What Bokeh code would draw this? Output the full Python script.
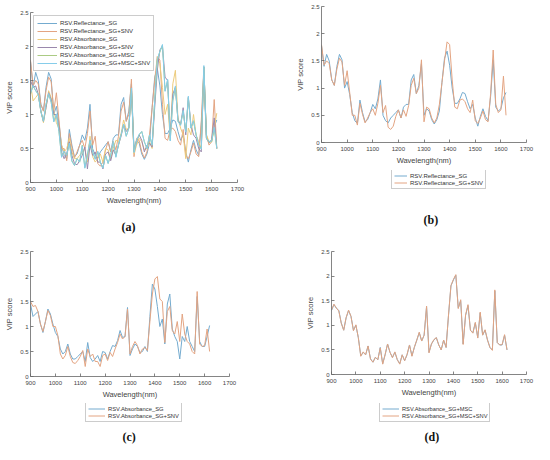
from bokeh.plotting import figure
from bokeh.models import Legend, LegendItem, Title, FixedTicker, Range1d
from bokeh.layouts import row, column
from bokeh.embed import file_html
from bokeh.resources import INLINE

wavelength = [900, 910, 920, 930, 940, 950, 960, 970, 980, 990,
              1000, 1010, 1020, 1030, 1040, 1050, 1060, 1070, 1080, 1090,
              1100, 1110, 1120, 1130, 1140, 1150, 1160, 1170, 1180, 1190,
              1200, 1210, 1220, 1230, 1240, 1250, 1260, 1270, 1280, 1290,
              1300, 1310, 1320, 1330, 1340, 1350, 1360, 1370, 1380, 1390,
              1400, 1410, 1420, 1430, 1440, 1450, 1460, 1470, 1480, 1490,
              1500, 1510, 1520, 1530, 1540, 1550, 1560, 1570, 1580, 1590,
              1600, 1610, 1620]

refl_sg = [1.78, 1.40, 1.62, 1.50, 1.15, 1.05, 1.40, 1.62, 1.52, 1.00,
           1.12, 0.88, 0.55, 0.40, 0.35, 0.78, 0.55, 0.38, 0.42, 0.55,
           0.70, 0.62, 0.80, 1.15, 0.50, 0.40, 0.36, 0.45, 0.50, 0.55,
           0.60, 0.45, 0.65, 0.70, 0.70, 1.15, 1.25, 0.90, 1.05, 1.45,
           0.50, 0.62, 0.58, 0.42, 0.34, 0.42, 0.58, 1.10, 1.55, 1.68,
           1.42, 1.00, 0.72, 0.72, 0.80, 0.92, 0.90, 0.75, 0.62, 0.70,
           0.45, 0.30, 0.48, 0.62, 0.48, 0.40, 0.85, 1.52, 0.65, 0.58,
           0.62, 0.82, 0.92]

refl_sg_snv = [1.80, 1.42, 1.50, 1.45, 1.15, 1.05, 1.35, 1.55, 1.48, 1.05,
               1.32, 0.92, 0.50, 0.50, 0.32, 0.72, 0.52, 0.36, 0.45, 0.55,
               0.62, 0.50, 0.72, 1.05, 0.55, 0.68, 0.28, 0.24, 0.30, 0.48,
               0.60, 0.45, 0.60, 0.48, 0.68, 1.05, 1.18, 0.90, 1.00, 1.52,
               0.38, 0.65, 0.62, 0.45, 0.36, 0.45, 0.70, 1.10, 1.50, 1.85,
               1.80, 1.15, 0.65, 0.62, 0.78, 0.80, 0.75, 0.62, 0.55, 0.78,
               0.40, 0.35, 0.45, 0.58, 0.42, 0.38, 0.90, 1.70, 0.70, 0.55,
               0.60, 1.22, 0.50]

abs_sg = [1.45, 1.20, 1.25, 1.30, 1.05, 0.88, 1.10, 1.35, 1.25, 1.05,
          0.88, 0.80, 0.55, 0.45, 0.50, 0.65, 0.45, 0.35, 0.35, 0.40,
          0.45, 0.50, 0.30, 0.68, 0.38, 0.30, 0.35, 0.42, 0.30, 0.50,
          0.48, 0.35, 0.50, 0.62, 0.60, 0.72, 0.92, 0.78, 0.80, 1.38,
          0.42, 0.55, 0.65, 0.60, 0.48, 0.50, 0.60, 0.50, 1.20, 1.85,
          1.75, 1.40, 1.00, 1.15, 0.65, 1.45, 1.65, 0.95, 0.80, 0.70,
          0.35, 0.80, 0.70, 1.00, 0.70, 0.60, 0.50, 1.60, 0.70, 0.60,
          0.60, 0.80, 1.02]

abs_sg_snv = [1.50, 1.40, 1.42, 1.30, 1.05, 0.90, 1.10, 1.32, 1.22, 1.00,
              1.00, 0.82, 0.45, 0.35, 0.42, 0.60, 0.40, 0.28, 0.26, 0.32,
              0.40, 0.52, 0.20, 0.55, 0.40, 0.45, 0.30, 0.30, 0.20, 0.42,
              0.45, 0.32, 0.48, 0.40, 0.55, 0.68, 0.85, 0.75, 0.80, 1.35,
              0.45, 0.60, 0.70, 0.62, 0.45, 0.55, 0.58, 0.52, 1.10, 1.65,
              1.95, 2.00, 1.55, 1.50, 0.68, 1.30, 1.40, 0.92, 0.85, 1.10,
              0.70, 1.25, 0.85, 0.70, 0.65, 0.50, 0.45, 1.70, 0.65, 0.60,
              0.62, 0.95, 0.50]

abs_sg_msc = [1.30, 1.42, 1.35, 1.30, 1.05, 0.90, 1.15, 1.30, 1.18, 0.90,
              1.00, 0.75, 0.38, 0.45, 0.40, 0.58, 0.32, 0.25, 0.35, 0.30,
              0.55, 0.22, 0.40, 0.62, 0.45, 0.35, 0.45, 0.30, 0.22, 0.40,
              0.28, 0.40, 0.60, 0.38, 0.55, 0.70, 0.85, 0.68, 0.80, 1.38,
              0.45, 0.62, 0.70, 0.75, 0.60, 0.50, 0.70, 0.55, 1.20, 1.80,
              1.92, 2.02, 1.35, 1.50, 0.62, 1.20, 1.40, 0.90, 0.85, 1.05,
              0.75, 1.25, 0.80, 0.90, 0.70, 0.55, 0.50, 1.70, 0.65, 0.60,
              0.60, 0.80, 0.50]

abs_sg_msc_snv = [1.31, 1.43, 1.35, 1.29, 1.04, 0.90, 1.16, 1.31, 1.18, 0.89,
                  1.01, 0.75, 0.37, 0.46, 0.40, 0.58, 0.31, 0.25, 0.35, 0.30,
                  0.54, 0.21, 0.41, 0.62, 0.45, 0.34, 0.46, 0.30, 0.21, 0.40,
                  0.28, 0.41, 0.60, 0.37, 0.56, 0.70, 0.86, 0.68, 0.80, 1.39,
                  0.44, 0.62, 0.71, 0.75, 0.60, 0.50, 0.70, 0.55, 1.21, 1.81,
                  1.93, 2.03, 1.34, 1.52, 0.61, 1.21, 1.42, 0.90, 0.84, 1.06,
                  0.74, 1.27, 0.80, 0.91, 0.70, 0.55, 0.49, 1.72, 0.65, 0.60,
                  0.61, 0.81, 0.50]

series_names = ["RSV.Reflectance_SG", "RSV.Reflectance_SG+SNV", "RSV.Absorbance_SG",
                "RSV.Absorbance_SG+SNV", "RSV.Absorbance_SG+MSC", "RSV.Absorbance_SG+MSC+SNV"]
series_values = [refl_sg, refl_sg_snv, abs_sg, abs_sg_snv, abs_sg_msc, abs_sg_msc_snv]
colors_a = ["#74abcf", "#e3a482", "#eccb7c", "#9a88ac", "#abcb84", "#86cdea"]
blue, orange = "#74abcf", "#e3a482"

x_ticks = [900, 1000, 1100, 1200, 1300, 1400, 1500, 1600, 1700]
y_ticks = [0, 0.5, 1, 1.5, 2, 2.5]
y_tick_labels = ["0", "0.5", "1", "1.5", "2", "2.5"]

FONT = "Liberation Sans"


def make_fig(fw, fh, bl, br, bt, bb):
    p = figure(frame_width=fw, frame_height=fh,
               min_border_left=bl, min_border_right=br,
               min_border_top=bt, min_border_bottom=bb,
               x_range=Range1d(900, 1700), y_range=Range1d(0, 2.5),
               output_backend="svg", toolbar_location=None,
               title_location=None)
    p.outline_line_color = None
    p.xgrid.visible = False
    p.ygrid.visible = False
    p.border_fill_color = "white"
    p.xaxis.ticker = FixedTicker(ticks=x_ticks)
    p.yaxis.ticker = FixedTicker(ticks=y_ticks)
    p.yaxis.major_label_overrides = {float(t): l for t, l in zip(y_ticks, y_tick_labels)}
    p.xaxis.axis_label = "Wavelength(nm)"
    p.yaxis.axis_label = "VIP score"
    for ax in (p.xaxis[0], p.yaxis[0]):
        ax.major_tick_in = 3
        ax.major_tick_out = 0
        ax.minor_tick_in = 0
        ax.minor_tick_out = 0
        ax.axis_line_color = "#666666"
        ax.axis_line_width = 0.8
        ax.major_tick_line_color = "#666666"
        ax.major_tick_line_width = 0.8
        ax.major_label_text_font = FONT
        ax.major_label_text_font_size = "6px"
        ax.major_label_text_color = "#444444"
        ax.axis_label_text_font = FONT
        ax.axis_label_text_font_size = "7.5px"
        ax.axis_label_text_font_style = "normal"
        ax.axis_label_text_color = "#444444"
    p.xaxis.major_label_standoff = 4
    p.xaxis.axis_label_standoff = 2
    p.yaxis.major_label_standoff = 2
    p.yaxis.axis_label_standoff = 3
    return p


def style_legend(lg, size, glyph_w, row_h, pad):
    lg.label_text_font = FONT
    lg.label_text_font_size = size
    lg.label_text_color = "#333333"
    lg.glyph_width = glyph_w
    lg.glyph_height = row_h
    lg.label_height = row_h
    lg.label_standoff = 3
    lg.spacing = 0
    lg.padding = pad
    lg.border_line_color = "#999999"
    lg.border_line_width = 0.8
    lg.background_fill_color = "white"
    lg.background_fill_alpha = 1.0
    lg.inactive_fill_alpha = 0.0


def add_caption(p, text, standoff, offset):
    p.add_layout(Title(text=text, align="left", text_font="Liberation Serif",
                       text_font_style="bold", text_font_size="12px",
                       text_color="#111111", standoff=standoff, offset=offset), "below")


# ---- (a): all six series, legend inside
fa = make_fig(207, 170, 30, 54, 12, 64)
items_a = []
for name, vals, col in zip(series_names, series_values, colors_a):
    r = fa.line(wavelength, vals, line_color=col, line_width=1)
    items_a.append(LegendItem(label=name, renderers=[r]))
lega = Legend(items=items_a, location="top_left")
style_legend(lega, "6px", 20, 8, 3)
lega.margin = 3
fa.add_layout(lega, "center")
add_caption(fa, "(a)", 20, 91)


def pair_plot(fw, fh, bl, br, bt, bb, vals1, vals2):
    p = make_fig(fw, fh, bl, br, bt, bb)
    p.line(wavelength, vals1, line_color=blue, line_width=1)
    p.line(wavelength, vals2, line_color=orange, line_width=1)
    return p


def legend_fig(fw, fh, bl, br, bt, bb, vals1, vals2, n1, n2, size, glyph_w, loc,
               caption, standoff, offset):
    q = figure(frame_width=fw, frame_height=fh,
               min_border_left=bl, min_border_right=br,
               min_border_top=bt, min_border_bottom=bb,
               x_range=Range1d(900, 1700), y_range=Range1d(0, 2.5),
               x_axis_location=None, y_axis_location=None,
               output_backend="svg", toolbar_location=None, title_location=None)
    q.outline_line_color = None
    q.xgrid.visible = False
    q.ygrid.visible = False
    r1 = q.line(wavelength, vals1, line_color=blue, line_width=1, visible=False)
    r2 = q.line(wavelength, vals2, line_color=orange, line_width=1, visible=False)
    lg = Legend(items=[LegendItem(label=n1, renderers=[r1]),
                       LegendItem(label=n2, renderers=[r2])], location=loc)
    style_legend(lg, size, glyph_w, 7, 2)
    lg.margin = 0
    q.add_layout(lg, "center")
    add_caption(q, caption, standoff, offset)
    return q


# ---- (b)
fb_plot = pair_plot(205, 136, 30, 8, 6, 26, refl_sg, refl_sg_snv)
fb_leg = legend_fig(205, 20, 30, 8, 2, 56, refl_sg, refl_sg_snv,
                    series_names[0], series_names[1], "6px", 13, (70, 1), "(b)", 41, 102)
fb = column(fb_plot, fb_leg, spacing=0)

# ---- (c)
fc_plot = pair_plot(199, 125, 30, 72, 4, 26, abs_sg, abs_sg_snv)
fc_leg = legend_fig(199, 19, 30, 72, 1, 23, abs_sg, abs_sg_snv,
                    series_names[2], series_names[3], "5.8px", 17, (55, 0), "(c)", 11, 92)
fc = column(fc_plot, fc_leg, spacing=0)

# ---- (d)
fd_plot = pair_plot(195, 123, 30, 8, 4, 28, abs_sg_msc, abs_sg_msc_snv)
fd_leg = legend_fig(195, 19, 30, 8, 1, 23, abs_sg_msc, abs_sg_msc_snv,
                    series_names[4], series_names[5], "5.7px", 17, (48, 0), "(d)", 11, 93)
fd = column(fd_plot, fd_leg, spacing=0)

layout = column(row(fa, fb, spacing=0), row(fc, fd, spacing=0), spacing=0)

with open("out.html", "w") as f:
    f.write(file_html(layout, INLINE))
